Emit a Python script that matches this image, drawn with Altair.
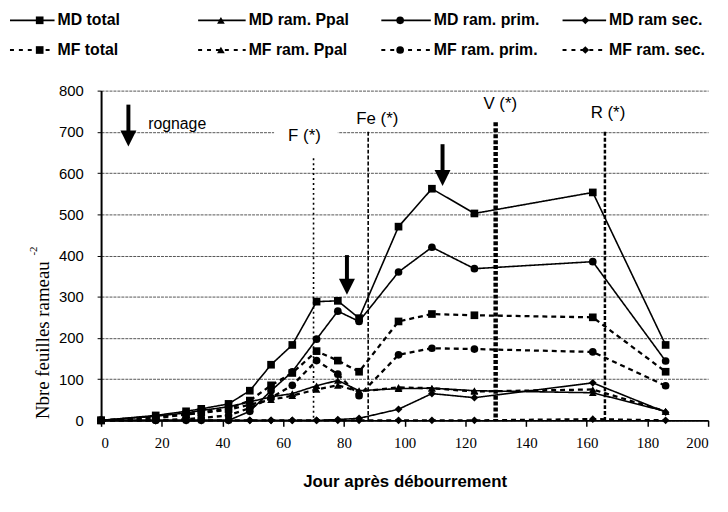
import altair as alt
import pandas as pd

# ---------------- data ----------------
days = [0, 18, 28, 33, 42, 49, 56, 63, 71, 78, 85, 98, 109, 123, 162, 186]

series_names = ["MD total", "MD ram. Ppal", "MD ram. prim.", "MD ram sec.",
                "MF total", "MF ram. Ppal", "MF ram. prim.", "MF ram. sec."]
series_type = ["MD", "MD", "MD", "MD", "MF", "MF", "MF", "MF"]
series_kind = ["total", "Ppal", "prim", "sec", "total", "Ppal", "prim", "sec"]

md_total = [0, 12, 22, 28, 40, 72, 135, 183, 288, 290, 248, 470, 562, 502, 553, 183]
md_ppal = [0, 10, 18, 24, 33, 45, 57, 65, 84, 97, 72, 77, 78, 72, 67, 22]
md_prim = [0, 0, 0, 0, 0, 22, 72, 118, 197, 265, 240, 360, 420, 368, 385, 144]
md_sec = [0, 0, 0, 0, 0, 0, 0, 0, 0, 2, 5, 27, 65, 55, 91, 20]
mf_total = [0, 5, 15, 20, 28, 48, 85, 115, 168, 145, 118, 240, 258, 255, 250, 118]
mf_ppal = [0, 8, 14, 18, 26, 38, 50, 60, 75, 85, 70, 80, 78, 70, 75, 22]
mf_prim = [0, 0, 3, 6, 12, 30, 55, 85, 145, 112, 60, 159, 175, 173, 166, 84]
mf_sec = [0, 0, 0, 0, 0, 0, 0, 0, 0, 0, 0, 0, 0, 0, 3, 0]
series_values = [md_total, md_ppal, md_prim, md_sec, mf_total, mf_ppal, mf_prim, mf_sec]

event_labels = ["F (*)", "Fe (*)", "V (*)", "R (*)"]
event_days = [70, 88, 130, 166]
event_tops = [636, 700, 723, 700]
event_label_days = [67, 91, 131.5, 167]
event_label_values = [690, 731, 767, 745]

arrow_days = [9, 81, 112.5]
arrow_tops = [766, 401, 670]
arrow_tips = [665, 305, 569]

rognage_text = ["rognage"]
rognage_day = [15.5]
rognage_value = [718]

x_title = "Jour après débourrement"
y_title = "Nbre feuilles  rameau"
y_title_sup = "-2"

x_ticks = list(range(0, 201, 20))
y_ticks = list(range(0, 801, 100))

# ---------------- tables ----------------
rows = []
for name, typ, kind, vals in zip(series_names, series_type, series_kind, series_values):
    for d, v in zip(days, vals):
        rows.append({"series": name, "type": typ, "kind": kind, "day": d, "value": v})
df = pd.DataFrame(rows)

ev_df = pd.DataFrame({"label": event_labels, "day": event_days, "top": event_tops,
                      "lday": event_label_days, "lval": event_label_values})
ar_df = pd.DataFrame({"day": arrow_days, "top": arrow_tops, "tip": arrow_tips})
ar_df["head"] = ar_df["tip"] + 19

x_scale = alt.Scale(domain=[0, 200], nice=False)
y_scale = alt.Scale(domain=[0, 800], nice=False)
shape_scale = alt.Scale(domain=["total", "Ppal", "prim", "sec"],
                        range=["square", "triangle-up", "circle", "diamond"])
dash_scale = alt.Scale(domain=["MD", "MF"], range=[[1, 0], [5, 4]])
width_scale = alt.Scale(domain=["MD", "MF"], range=[1.6, 2.3])

X = alt.X("day:Q", scale=x_scale, axis=alt.Axis(
    title=x_title, values=x_ticks, grid=False,
    titleFont="Liberation Sans", titleFontWeight="bold", titleFontSize=17,
    titleColor="black", titlePadding=24,
    labelFont="Liberation Serif", labelFontSize=15, labelColor="black", labelPadding=9,
    tickSize=6, tickColor="black", tickWidth=1.5,
    domainColor="black", domainWidth=2))
Y = alt.Y("value:Q", scale=y_scale, axis=alt.Axis(
    title=None, values=y_ticks, grid=True, gridColor="#555555", gridDash=[3, 1],
    gridWidth=1,
    labelFont="Liberation Sans", labelFontSize=15, labelColor="black", labelPadding=14,
    tickSize=4, tickColor="black", domainColor="black", domainWidth=2))

base = alt.Chart(df)
lines = base.mark_line(color="black").encode(
    x=X, y=Y, detail="series:N",
    strokeDash=alt.StrokeDash("type:N", scale=dash_scale, legend=None),
    strokeWidth=alt.StrokeWidth("type:N", scale=width_scale, legend=None),
)
points = base.mark_point(filled=True, color="black", opacity=1, size=60).encode(
    x="day:Q", y="value:Q",
    shape=alt.Shape("kind:N", scale=shape_scale, legend=None),
)

# white box breaking the gridline behind F label
wbox = alt.Chart(pd.DataFrame({"a": [57], "b": [78], "c": [665], "d": [712]})).mark_rect(
    color="white").encode(x="a:Q", x2="b:Q", y="c:Q", y2="d:Q")

ev_styles = [([2, 3], 1.6), ([4, 2], 1.6), ([4, 2], 4.5), ([4, 2], 2.5)]
event_layers = []
for i, (dash, w) in enumerate(ev_styles):
    event_layers.append(
        alt.Chart(ev_df.iloc[[i]]).mark_rule(color="black", strokeDash=dash, strokeWidth=w)
        .encode(x="day:Q", y="top:Q", y2=alt.datum(0))
    )
ev_text = alt.Chart(ev_df).mark_text(font="Liberation Sans", fontSize=17, color="black",
                                     align="center", baseline="middle").encode(
    x="lday:Q", y="lval:Q", text="label:N")

arrow_shaft = alt.Chart(ar_df).mark_rule(color="black", strokeWidth=4).encode(
    x="day:Q", y="top:Q", y2="head:Q")
arrow_head = alt.Chart(ar_df).mark_point(shape="M-1,-1L1,-1L0,1Z", filled=True, color="black",
                                         opacity=1, size=260).encode(
    x="day:Q", y="head:Q")

rog = alt.Chart(pd.DataFrame({"t": rognage_text, "d": rognage_day, "v": rognage_value})).mark_text(
    font="Liberation Sans", fontSize=16, color="black", align="left", baseline="middle").encode(
    x="d:Q", y="v:Q", text="t:N")

ytitle = alt.Chart(pd.DataFrame({"t": [y_title]})).mark_text(
    font="Liberation Serif", fontSize=19, color="black", angle=270,
    align="center", baseline="middle").encode(
    x=alt.value(-59), y=alt.value(252), text="t:N")
ysup = alt.Chart(pd.DataFrame({"t": [y_title_sup]})).mark_text(
    font="Liberation Serif", fontSize=11, color="black", angle=270,
    align="center", baseline="middle").encode(
    x=alt.value(-68), y=alt.value(162), text="t:N")

# ---------------- legend (custom: line + marker + text) ----------------
leg_line_start = [-92, 98, 283, 466]
leg_line_end = [-47, 146, 333, 510]
leg_marker = [-62, 121, 302, 489]
leg_text = [-44, 149, 336, 513]
leg_rows = [-71, -41]

legend_layers = []
for i, (name, typ, kind) in enumerate(zip(series_names, series_type, series_kind)):
    col = i % 4
    row = i // 4
    ldf = pd.DataFrame({"series": [name], "type": [typ], "kind": [kind]})
    yv = leg_rows[row]
    dash = [1, 0] if typ == "MD" else [4, 5]
    legend_layers.append(alt.Chart(ldf).mark_rule(color="black", strokeWidth=1.8, strokeDash=dash).encode(
        x=alt.value(leg_line_start[col]), x2=alt.value(leg_line_end[col]), y=alt.value(yv)))
    legend_layers.append(alt.Chart(ldf).mark_point(filled=True, color="black", opacity=1, size=60).encode(
        x=alt.value(leg_marker[col]), y=alt.value(yv),
        shape=alt.Shape("kind:N", scale=shape_scale, legend=None)))
    legend_layers.append(alt.Chart(ldf).mark_text(
        font="Liberation Sans", fontSize=16, fontWeight="bold", color="black",
        align="left", baseline="middle").encode(
        x=alt.value(leg_text[col]), y=alt.value(yv), text="series:N"))

chart = alt.layer(
    lines, points, wbox, *event_layers, ev_text, arrow_shaft, arrow_head, rog,
    ytitle, ysup, *legend_layers
).properties(
    width=613, height=333,
    autosize=alt.AutoSizeParams(type="none"),
    padding={"left": 94, "top": 81, "right": 12, "bottom": 80},
    background="white",
).configure_view(stroke=None)

chart.save("out.html", embed_options={"renderer": "svg", "actions": False})
